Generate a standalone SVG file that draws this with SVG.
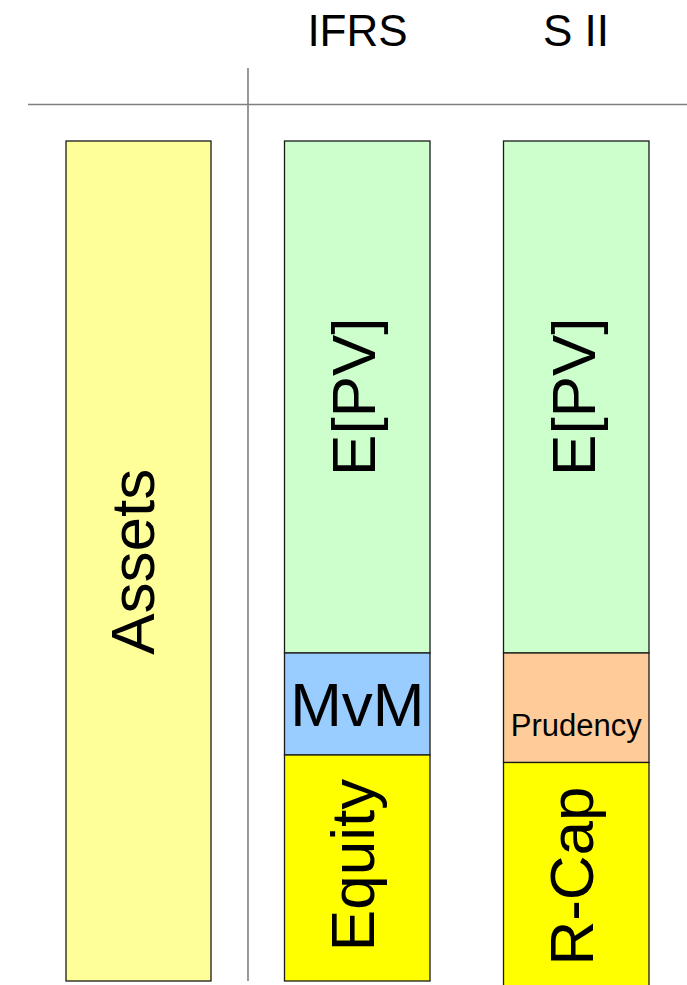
<svg xmlns="http://www.w3.org/2000/svg" width="687" height="985" viewBox="0 0 687 985">
<style>
.box{stroke:#1a1a1a;stroke-width:1.3}
.t{font-family:"Liberation Sans",Arial,sans-serif;fill:#000}
.big{font-size:62px}
.rot{text-anchor:middle}
.axis{stroke:#808080;stroke-width:1.6;fill:none}
</style>
<rect width="687" height="985" fill="#fff"/>
<g id="axes">
<line class="axis" x1="28" y1="104.5" x2="687" y2="104.5"/>
<line class="axis" x1="248" y1="68" x2="248" y2="981"/>
</g>
<g id="headers">
<text class="t" x="357.5" y="45.5" font-size="44" text-anchor="middle">IFRS</text>
<text class="t" x="576" y="45.5" font-size="44" text-anchor="middle">S II</text>
</g>
<g id="assets">
<rect class="box" x="66" y="141" width="145" height="840" fill="#ffff99"/>
<text class="t big rot" transform="translate(154,561.7) rotate(-90)">Assets</text>
</g>
<g id="ifrs-epv">
<rect class="box" x="284.5" y="141" width="145.5" height="512" fill="#ccffcc"/>
<text class="t big rot" transform="translate(375,396.7) rotate(-90)">E[PV]</text>
</g>
<g id="ifrs-mvm">
<rect class="box" x="284.5" y="653" width="145.5" height="102" fill="#99ccff"/>
<text class="t big" x="357.3" y="726" text-anchor="middle">MvM</text>
</g>
<g id="ifrs-equity">
<rect class="box" x="284.5" y="755" width="145.5" height="226" fill="#ffff00"/>
<text class="t big rot" transform="translate(373.5,865) rotate(-90)">Equity</text>
</g>
<g id="sii-epv">
<rect class="box" x="503.5" y="141" width="145.5" height="512" fill="#ccffcc"/>
<text class="t big rot" transform="translate(595,396.7) rotate(-90)">E[PV]</text>
</g>
<g id="sii-prudency">
<rect class="box" x="503.5" y="653" width="145.5" height="109.5" fill="#ffcc99"/>
<text class="t" x="576.3" y="736" font-size="31" text-anchor="middle">Prudency</text>
</g>
<g id="sii-rcap">
<rect class="box" x="503.5" y="762.5" width="145.5" height="230" fill="#ffff00"/>
<text class="t big rot" transform="translate(593.3,876) rotate(-90)">R-Cap</text>
</g>
</svg>
